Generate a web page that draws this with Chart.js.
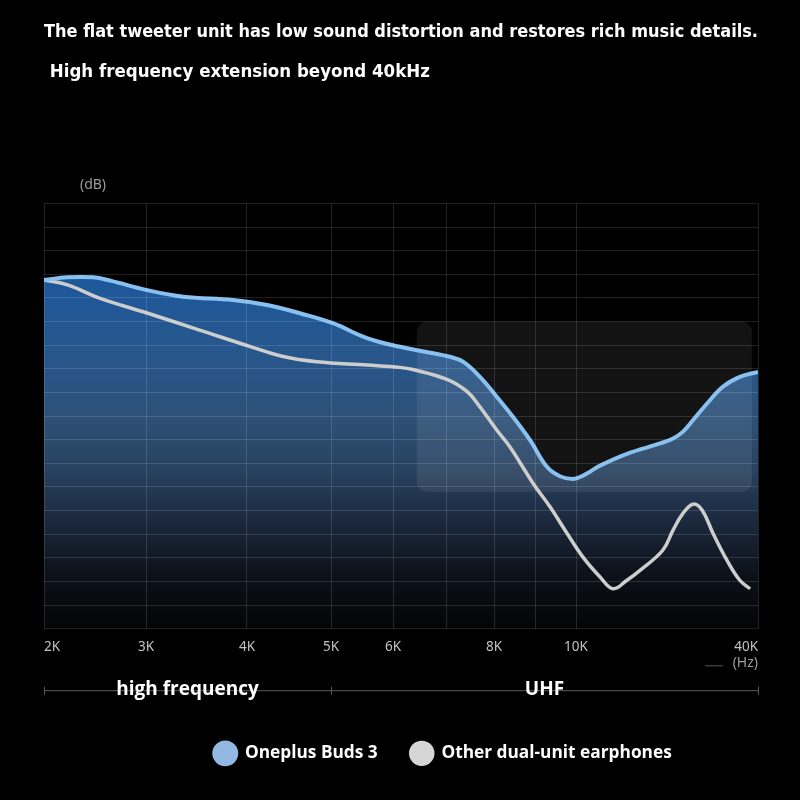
<!DOCTYPE html>
<html>
<head>
<meta charset="utf-8">
<title>Oneplus Buds 3 high frequency response</title>
<script src="https://cdn.jsdelivr.net/npm/chart.js@4.4.1/dist/chart.umd.min.js"></script>
<style>
  html, body { margin: 0; background: #000; }
  #wrap { width: 800px; height: 800px; position: relative; }
</style>
</head>
<body>
<div id="wrap"><canvas id="fr"></canvas></div>
<script>
// Frequency gridlines (kHz) and where each sits along the axis (share of width)
const gridFreqs = [2, 3, 4, 5, 6, 7, 8, 9, 10, 40];
const gridStops = [0, 0.1429, 0.2843, 0.4020, 0.4888, 0.5644, 0.6303, 0.6877, 0.7451, 1];
const tickLabels = ['2K', '3K', '4K', '5K', '6K', '', '8K', '', '10K', '40K'];

// Oneplus Buds 3 response
const budsFreq = [2, 2.23, 2.48, 2.65, 3.01, 3.37, 3.86, 4.24, 4.63, 5.03, 5.58, 6.13, 6.69, 7.06, 7.34,
  7.7, 8.07, 8.46, 8.88, 9.29, 9.61, 9.93, 10.66, 11.8, 13.96, 18.4, 23.85, 26.0, 27.6, 29.3,
  31.6, 34.2, 37.0, 40];
const budsDb = [14.76, 14.87, 14.87, 14.73, 14.33, 14.05, 13.91, 13.7, 13.35, 12.93, 12.3, 11.93, 11.68, 11.51, 11.3,
  10.66, 9.81, 8.97, 7.98, 6.85, 6.45, 6.34, 6.42, 6.57, 6.9, 7.4, 7.84, 8.05, 8.33, 8.83,
  9.53, 10.24, 10.66, 10.87];

// Other dual-unit earphones response
const otherFreq = [2, 2.23, 2.55, 3.01, 3.53, 4.04, 4.43, 4.83, 5.58, 6.13, 6.37, 7.0, 7.43, 7.7, 8.07,
  8.39, 8.95, 9.37, 9.78, 11.15, 13.96, 16.1, 18.4, 20.55, 24.3, 26.0, 27.6, 29.3, 30.8, 32.6,
  34.9, 37.0, 38.7];
const otherDb = [14.76, 14.55, 13.98, 13.36, 12.64, 11.94, 11.52, 11.3, 11.16, 11.06, 10.97, 10.55, 10.03, 9.39, 8.4,
  7.69, 6.16, 5.15, 4.04, 3.03, 2.19, 1.69, 2.05, 2.47, 3.32, 4.17, 4.87, 5.27, 5.01, 4.03,
  2.89, 2.05, 1.69];

const bandNames = ['high frequency', 'UHF'];
const bandEdges = [2, 5, 40];

// highlighted UHF window (kHz / dB)
const boxFreq = [6.44, 39];
const boxDb = [5.8, 13];

const gridColor = 'rgba(255, 255, 255, 0.13)';
const titleFont = { family: "'Liberation Sans Narrow', 'DejaVu Sans Condensed', sans-serif", size: 18.5, weight: 'bold' };
const legendShift = 42;

function freqToShare(v) {
  if (v <= gridFreqs[0]) return 0;
  for (let i = 1; i < gridFreqs.length; i++) {
    if (v <= gridFreqs[i]) {
      const t = (v - gridFreqs[i - 1]) / (gridFreqs[i] - gridFreqs[i - 1]);
      return gridStops[i - 1] + t * (gridStops[i] - gridStops[i - 1]);
    }
  }
  return 1;
}

function shareToFreq(s) {
  for (let i = 1; i < gridStops.length; i++) {
    if (s <= gridStops[i]) {
      const t = (s - gridStops[i - 1]) / (gridStops[i] - gridStops[i - 1]);
      return gridFreqs[i - 1] + t * (gridFreqs[i] - gridFreqs[i - 1]);
    }
  }
  return gridFreqs[gridFreqs.length - 1];
}

// piecewise frequency axis, like the designer's one
class FreqScale extends Chart.LinearScale {
  buildTicks() {
    return gridFreqs.map(v => ({ value: v }));
  }
  getPixelForValue(value) {
    return this.getPixelForDecimal(freqToShare(value));
  }
  getValueForPixel(pixel) {
    return shareToFreq(this.getDecimalForPixel(pixel));
  }
}
FreqScale.id = 'freq';
Chart.register(FreqScale);

const toPoints = (xs, ys) => xs.map((x, i) => ({ x: x, y: ys[i] }));

function blueFill(context) {
  const area = context.chart.chartArea;
  if (!area) return null;
  const g = context.chart.ctx.createLinearGradient(0, area.top, 0, area.bottom);
  g.addColorStop(0.18, 'rgb(30, 88, 155)');
  g.addColorStop(0.37, 'rgb(40, 86, 138)');
  g.addColorStop(0.51, 'rgb(45, 80, 118)');
  g.addColorStop(0.63, 'rgb(40, 65, 95)');
  g.addColorStop(0.75, 'rgb(27, 40, 60)');
  g.addColorStop(0.87, 'rgb(13, 18, 26)');
  g.addColorStop(1, 'rgb(3, 4, 6)');
  return g;
}

const extras = {
  id: 'extras',
  afterLayout(chart) {
    chart.legend.left += legendShift;
    chart.legend.right += legendShift;
  },
  afterDatasetDraw(chart, args) {
    if (args.index !== 2) return;
    const { ctx, scales: { x, y } } = chart;
    const x0 = x.getPixelForValue(boxFreq[0]);
    const x1 = x.getPixelForValue(boxFreq[1]);
    const y0 = y.getPixelForValue(boxDb[1]);
    const y1 = y.getPixelForValue(boxDb[0]);
    ctx.save();
    ctx.fillStyle = 'rgba(255, 255, 255, 0.075)';
    ctx.beginPath();
    ctx.roundRect(x0, y0, x1 - x0, y1 - y0, 10);
    ctx.fill();
    ctx.restore();
  },
  afterDraw(chart) {
    const { ctx, chartArea: area, scales: { x } } = chart;
    ctx.save();
    ctx.font = "14px 'Noto Sans', sans-serif";
    ctx.fillStyle = '#9c9c9c';
    ctx.textBaseline = 'middle';
    ctx.textAlign = 'center';
    ctx.fillText('(dB)', area.left + 49, area.top - 18);
    ctx.textAlign = 'right';
    ctx.fillText('(Hz)', area.right, area.bottom + 34);

    ctx.strokeStyle = '#3a3a3a';
    ctx.lineWidth = 1.5;
    ctx.beginPath();
    ctx.moveTo(area.right - 53, area.bottom + 37);
    ctx.lineTo(area.right - 35, area.bottom + 37);
    ctx.stroke();

    // frequency bands under the axis
    const by = area.bottom + 62;
    ctx.strokeStyle = '#5a5a5a';
    ctx.lineWidth = 1;
    ctx.beginPath();
    ctx.moveTo(x.getPixelForValue(bandEdges[0]), by);
    ctx.lineTo(x.getPixelForValue(bandEdges[bandEdges.length - 1]), by);
    bandEdges.forEach(f => {
      const px = Math.round(x.getPixelForValue(f)) + 0.5;
      ctx.moveTo(px, by - 4);
      ctx.lineTo(px, by + 4);
    });
    ctx.stroke();

    ctx.font = "bold 19px 'Open Sans', sans-serif";
    ctx.fillStyle = '#fff';
    ctx.textAlign = 'center';
    bandNames.forEach((name, i) => {
      const mid = (x.getPixelForValue(bandEdges[i]) + x.getPixelForValue(bandEdges[i + 1])) / 2;
      ctx.fillText(name, mid, by - 1);
    });
    ctx.restore();
  }
};

Chart.defaults.font.family = "'Open Sans', sans-serif";

new Chart(document.getElementById('fr'), {
  type: 'line',
  data: {
    datasets: [
      {
        label: 'Oneplus Buds 3',
        data: toPoints(budsFreq, budsDb),
        borderColor: '#88c0f0',
        borderWidth: 4,
        pointRadius: 0,
        pointBackgroundColor: '#93b8e3',
        pointBorderColor: '#93b8e3',
        tension: 0.4,
        fill: false,
        order: 0
      },
      {
        label: 'Other dual-unit earphones',
        data: toPoints(otherFreq, otherDb),
        borderColor: '#cdcdcd',
        borderWidth: 3.5,
        pointRadius: 0,
        pointBackgroundColor: '#d6d6d6',
        pointBorderColor: '#d6d6d6',
        tension: 0.4,
        fill: false,
        order: 1
      },
      {
        label: 'area',
        data: toPoints(budsFreq, budsDb),
        borderWidth: 0,
        pointRadius: 0,
        backgroundColor: blueFill,
        tension: 0.4,
        fill: 'origin',
        order: 2
      }
    ]
  },
  options: {
    responsive: true,
    maintainAspectRatio: false,
    animation: false,
    layout: { padding: { left: 44, right: 42, top: 0, bottom: 28 } },
    plugins: {
      title: {
        display: true,
        text: 'The flat tweeter unit has low sound distortion and restores rich music details.',
        color: '#fff',
        font: titleFont,
        padding: { top: 21, bottom: 18 }
      },
      subtitle: {
        display: true,
        text: ' High frequency extension beyond 40kHz',
        align: 'start',
        color: '#fff',
        font: titleFont,
        padding: { top: 0, bottom: 120 }
      },
      legend: {
        position: 'bottom',
        labels: {
          color: '#fff',
          font: { size: 17.3, weight: 'bold' },
          usePointStyle: true,
          pointStyle: 'circle',
          pointStyleWidth: 22,
          boxHeight: 15.5,
          padding: 33,
          filter: item => item.datasetIndex < 2
        }
      },
      tooltip: { enabled: false }
    },
    scales: {
      x: {
        type: 'freq',
        min: 2,
        max: 40,
        grid: { color: gridColor, drawTicks: false, z: 1 },
        border: { display: false },
        ticks: {
          color: '#c2c2c2',
          font: { size: 13.5, family: "'Noto Sans', sans-serif" },
          padding: 10,
          align: 'inner',
          autoSkip: false,
          maxRotation: 0,
          callback: (v, i) => tickLabels[i]
        },
        afterFit: s => { s.height = 83; }
      },
      y: {
        min: 0,
        max: 18,
        ticks: { display: false, stepSize: 1 },
        grid: { color: gridColor, drawTicks: false, z: 1 },
        border: { display: false },
        afterFit: s => { s.width = 0; }
      }
    }
  },
  plugins: [extras]
});
</script>
</body>
</html>
